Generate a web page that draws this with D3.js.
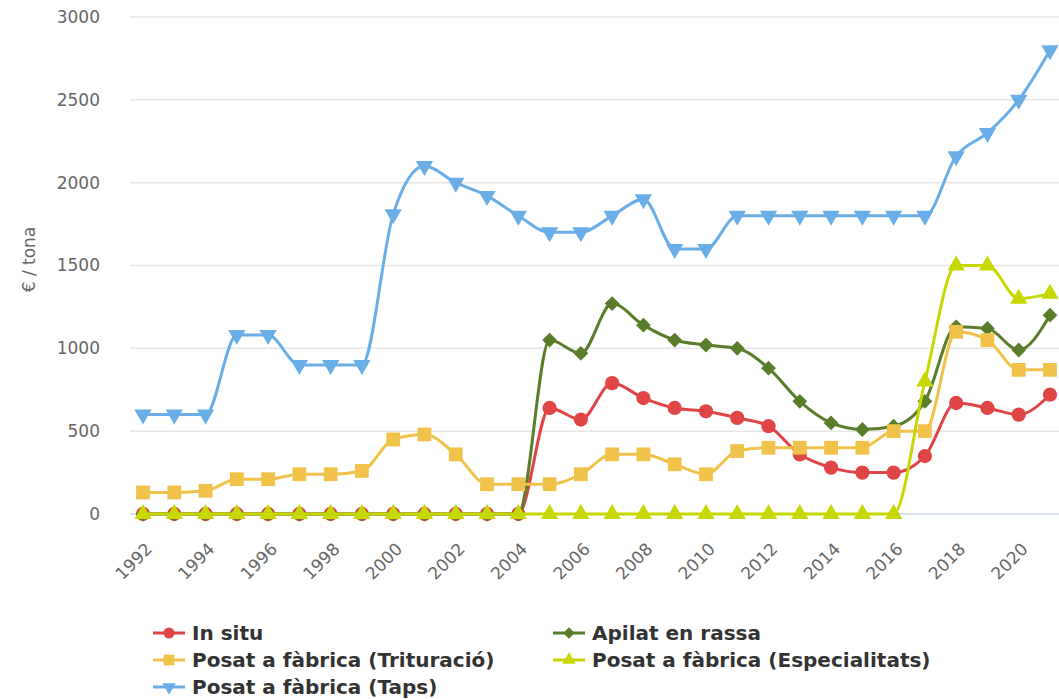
<!DOCTYPE html>
<html>
<head>
<meta charset="utf-8">
<script src="https://cdn.jsdelivr.net/npm/d3@7"></script>
<style>
  body { margin: 0; background: #fff; }
  svg { display: block; }
</style>
</head>
<body>
<script>
// anys
const years = d3.range(1992, 2022);

// €/tona per sèrie
const inSitu = [0,0,0,0,0,0,0,0,0,0,0,0,0,640,570,790,700,640,620,580,530,360,280,250,250,350,670,640,600,720];
const apilat = [0,0,0,0,0,0,0,0,0,0,0,0,0,1050,970,1270,1140,1050,1020,1000,880,680,550,510,530,680,1130,1120,990,1200];
const trituracio = [130,130,140,210,210,240,240,260,450,480,360,180,180,180,240,360,360,300,240,380,400,400,400,400,500,500,1100,1050,870,870];
const especialitats = [0,0,0,0,0,0,0,0,0,0,0,0,0,0,0,0,0,0,0,0,0,0,0,0,0,800,1500,1500,1300,1330];
const taps = [600,600,600,1080,1080,900,900,900,1810,2100,2000,1920,1800,1700,1700,1800,1900,1600,1600,1800,1800,1800,1800,1800,1800,1800,2160,2300,2500,2800];

const yTicks = [0, 500, 1000, 1500, 2000, 2500, 3000];
const xTicks = d3.range(1992, 2022, 2);

const series = [
  {name: "In situ", values: inSitu, color: "#e04545", symbol: d3.symbolCircle, size: 160},
  {name: "Apilat en rassa", values: apilat, color: "#5a7d2a", symbol: d3.symbolDiamond2, size: 140},
  {name: "Posat a fàbrica (Trituració)", values: trituracio, color: "#f0c24a", symbol: d3.symbolSquare, size: 190},
  {name: "Posat a fàbrica (Especialitats)", values: especialitats, color: "#c6d800", symbol: d3.symbolTriangle, size: 130},
  {name: "Posat a fàbrica (Taps)", values: taps, color: "#6aaee8", symbol: d3.symbolTriangle, size: 130, down: true}
];

const width = 1059, height = 699;
const svg = d3.select("body").append("svg")
  .attr("width", width)
  .attr("height", height)
  .style("font-family", "'DejaVu Sans', sans-serif");

const x = d3.scaleLinear().domain([1992, 2021]).range([143, 1050]);
const y = d3.scaleLinear().domain([0, 3000]).range([514, 17]);

// rejilla + etiquetes Y
const gy = svg.append("g");
gy.selectAll("line").data(yTicks).join("line")
  .attr("x1", 130).attr("x2", width)
  .attr("y1", d => y(d)).attr("y2", d => y(d))
  .attr("stroke", d => d === 0 ? "#ccd6eb" : "#e6e6e6")
  .attr("stroke-width", 1.5);
gy.selectAll("text").data(yTicks).join("text")
  .attr("x", 100).attr("y", d => y(d))
  .attr("dy", "0.35em")
  .attr("text-anchor", "end")
  .attr("fill", "#666")
  .style("font-size", "17px")
  .text(d => d);

svg.append("text")
  .attr("transform", "translate(29," + (y(1500) - 6) + ") rotate(-90)")
  .attr("text-anchor", "middle")
  .attr("dy", "0.35em")
  .attr("fill", "#666")
  .style("font-size", "17px")
  .text("€ / tona");

// etiquetes X
svg.append("g").selectAll("text").data(xTicks).join("text")
  .attr("transform", d => "translate(" + (x(d) + 6) + ",546) rotate(-45)")
  .attr("text-anchor", "end")
  .attr("dy", "0.35em")
  .attr("fill", "#666")
  .style("font-size", "17px")
  .text(d => d);

const line = d3.line()
  .x((d, i) => x(years[i]))
  .y(d => y(d))
  .curve(d3.curveMonotoneX);

const sym = (s, k) => d3.symbol().type(s.symbol).size(s.size * k)();

for (const s of series) {
  const g = svg.append("g");
  g.append("path")
    .attr("d", line(s.values))
    .attr("fill", "none")
    .attr("stroke", s.color)
    .attr("stroke-width", 3);
  g.selectAll("path.pt").data(s.values).join("path")
    .attr("class", "pt")
    .attr("d", sym(s, 1))
    .attr("transform", (d, i) => "translate(" + x(years[i]) + "," + y(d) + ")" + (s.down ? " rotate(180)" : ""))
    .attr("fill", s.color);
}

// llegenda
const legendPos = [[169, 633], [569, 633], [169, 660], [569, 660], [169, 687]];
const lg = svg.append("g").selectAll("g").data(series).join("g")
  .attr("transform", (d, i) => "translate(" + legendPos[i][0] + "," + legendPos[i][1] + ")");
lg.append("line")
  .attr("x1", -16).attr("x2", 16)
  .attr("stroke", d => d.color).attr("stroke-width", 3);
lg.append("path")
  .attr("d", d => sym(d, 0.6))
  .attr("transform", d => d.down ? "rotate(180)" : null)
  .attr("fill", d => d.color);
lg.append("text")
  .attr("x", 23)
  .attr("dy", "0.36em")
  .attr("fill", "#333")
  .style("font-weight", "bold")
  .style("font-size", "20px")
  .text(d => d.name);
</script>
</body>
</html>
